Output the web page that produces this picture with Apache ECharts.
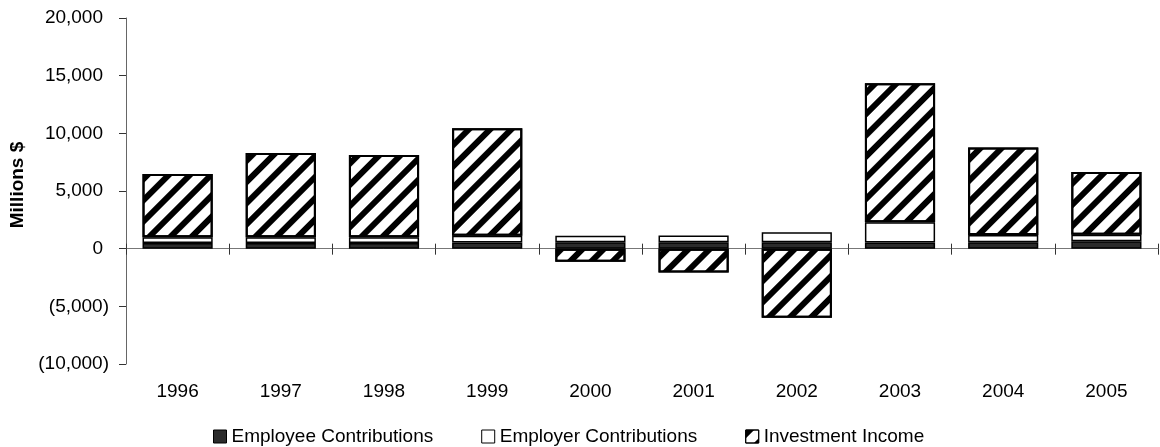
<!DOCTYPE html>
<html style="height: 100%;width: 100%">
<head>
    <meta charset="UTF-8">
    <title>Contributions and Investment Income</title>
    <script type="text/javascript" src="https://cdn.jsdelivr.net/npm/echarts@6/dist/echarts.min.js"></script>
    <style>
        html, body { margin: 0; padding: 0; background: #fff; }
        #main { width: 1160px; height: 447px; }
    </style>
</head>
<body>
<div id="main"></div>
<script type="text/javascript">
    // data (millions $)
    var years = ['1996', '1997', '1998', '1999', '2000', '2001', '2002', '2003', '2004', '2005'];
    var employee = [500, 500, 500, 540, 550, 550, 550, 540, 560, 650];
    var employer = [480, 480, 480, 570, 560, 600, 880, 1750, 620, 560];
    var investment = [5500, 7320, 7150, 9320, -1130, -2060, -6000, 12060, 7600, 5440];
    var seriesNames = ['Employee Contributions', 'Employer Contributions', 'Investment Income'];

    var font = 'Liberation Sans, Arial, sans-serif';
    var fontSize = 19;

    function fmt(v) {
        var s = Math.abs(v).toLocaleString('en-US');
        if (v < 0) return '{n|(' + s + ')}';
        return '{p|' + s + '}';
    }

    var myChart = echarts.init(document.getElementById('main'));

    var option = {
        animation: false,
        backgroundColor: '#fff',
        textStyle: { fontFamily: font, color: '#000' },
        grid: { left: 126, right: 2, top: 18, bottom: 83 },
        legend: {
            data: seriesNames,
            left: 208,
            top: 422,
            itemWidth: 13,
            itemHeight: 13,
            itemGap: 48,
            icon: 'rect',
            itemStyle: { borderWidth: 1 },
            textStyle: { fontFamily: font, fontSize: fontSize, color: '#000' }
        },
        xAxis: [
            {
                // zero line with the downward tick marks
                type: 'category',
                data: years,
                position: 'bottom',
                axisLine: { onZero: true, onZeroAxisIndex: 0, lineStyle: { color: '#777', width: 1 } },
                axisTick: { show: true, inside: false, length: 6, lineStyle: { color: '#333' } },
                axisLabel: { show: false }
            },
            {
                // upward halves of the ticks
                type: 'category',
                data: years,
                position: 'bottom',
                axisLine: { show: false, onZero: true, onZeroAxisIndex: 0 },
                axisTick: { show: true, inside: true, length: 5, lineStyle: { color: '#333' } },
                axisLabel: { show: false }
            },
            {
                // year labels under the plot
                type: 'category',
                data: years,
                position: 'bottom',
                axisLine: { show: false, onZero: false },
                axisTick: { show: false },
                axisLabel: { margin: 18, fontFamily: font, fontSize: fontSize, color: '#000' }
            }
        ],
        yAxis: {
            type: 'value',
            min: -10000,
            max: 20000,
            interval: 5000,
            name: 'Millions $',
            nameLocation: 'middle',
            nameGap: 99,
            nameTextStyle: { fontFamily: font, fontSize: fontSize, fontWeight: 'bold', color: '#000', padding: [0, 0, 0, 12] },
            axisLine: { show: true, lineStyle: { color: '#666', width: 1 } },
            axisTick: { show: true, length: 7, lineStyle: { color: '#333' } },
            splitLine: { show: false },
            axisLabel: {
                margin: 17,
                formatter: fmt,
                rich: {
                    p: { fontFamily: font, fontSize: fontSize, color: '#000', padding: [0, 6, 0, 0] },
                    n: { fontFamily: font, fontSize: fontSize, color: '#000' }
                }
            }
        },
        series: [
            {
                name: seriesNames[0],
                type: 'bar',
                stack: 'total',
                barCategoryGap: '32%',
                data: employee,
                itemStyle: { color: '#2b2b2b', borderColor: '#000', borderWidth: 1.5 }
            },
            {
                name: seriesNames[1],
                type: 'bar',
                stack: 'total',
                barCategoryGap: '32%',
                data: employer,
                itemStyle: { color: '#fff', borderColor: '#000', borderWidth: 1.5 }
            },
            {
                name: seriesNames[2],
                type: 'bar',
                stack: 'total',
                barCategoryGap: '32%',
                data: investment,
                itemStyle: {
                    color: '#fff',
                    borderColor: '#000',
                    borderWidth: 2,
                    decal: {
                        symbol: 'rect',
                        symbolSize: 1,
                        color: '#000',
                        dashArrayX: [1, 0],
                        dashArrayY: [6, 9],
                        rotation: -Math.PI / 4
                    }
                }
            }
        ]
    };

    myChart.setOption(option);
</script>
</body>
</html>
